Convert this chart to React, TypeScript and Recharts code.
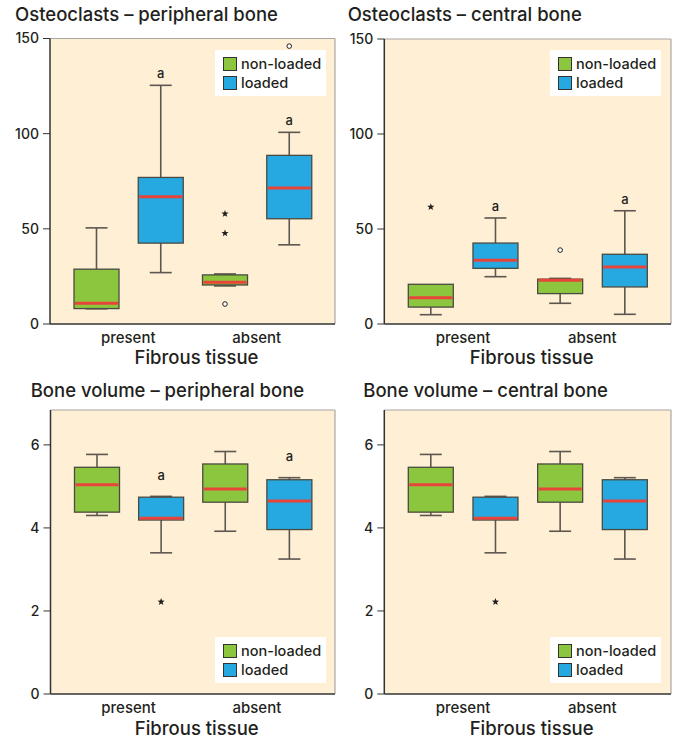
import React from "react";
import { ComposedChart, Bar, XAxis, YAxis, CartesianGrid, Legend } from "recharts";

// ---------- data ----------
const boxKeys = ["present|non-loaded", "present|loaded", "absent|non-loaded", "absent|loaded"];
const groupOf = ["present", "present", "absent", "absent"];
const seriesOf = ["non-loaded", "loaded", "non-loaded", "loaded"];
const seriesNames = ["non-loaded", "loaded"];
const seriesColors = ["#8CC63F", "#25A9E0"];

// Osteoclasts – peripheral bone
const ocPerWhiskerLow = [8, 27, 20, 41.6];
const ocPerQ1 = [8.1, 42.5, 20.5, 55.3];
const ocPerMedian = [10.9, 66.8, 21.9, 71.4];
const ocPerQ3 = [28.8, 77, 25.8, 88.6];
const ocPerWhiskerHigh = [50.5, 125.4, 26.3, 100.7];
const ocPerStars = [[], [], [57.9, 47.7], []];
const ocPerCircles = [[], [], [10.5], [146]];
const ocPerMarks = ["", "a", "", "a"];

// Osteoclasts – central bone
const ocCenWhiskerLow = [4.9, 24.9, 10.9, 5.1];
const ocCenQ1 = [8.9, 29.3, 16, 19.5];
const ocCenMedian = [13.8, 33.5, 23, 30];
const ocCenQ3 = [20.9, 42.6, 23.6, 36.7];
const ocCenWhiskerHigh = [20.9, 55.8, 24, 59.6];
const ocCenStars = [[61.6], [], [], []];
const ocCenCircles = [[], [], [38.9], []];
const ocCenMarks = ["", "a", "", "a"];

// Bone volume – peripheral bone
const bvPerWhiskerLow = [4.3, 3.4, 3.92, 3.25];
const bvPerQ1 = [4.38, 4.19, 4.62, 3.96];
const bvPerMedian = [5.04, 4.23, 4.94, 4.65];
const bvPerQ3 = [5.46, 4.74, 5.54, 5.16];
const bvPerWhiskerHigh = [5.77, 4.76, 5.84, 5.21];
const bvPerStars = [[], [2.22], [], []];
const bvPerCircles = [[], [], [], []];
const bvPerMarks = ["", "a", "", "a"];

// Bone volume – central bone
const bvCenWhiskerLow = [4.3, 3.4, 3.92, 3.25];
const bvCenQ1 = [4.38, 4.19, 4.62, 3.96];
const bvCenMedian = [5.04, 4.23, 4.94, 4.65];
const bvCenQ3 = [5.46, 4.74, 5.54, 5.16];
const bvCenWhiskerHigh = [5.77, 4.76, 5.84, 5.21];
const bvCenStars = [[], [2.22], [], []];
const bvCenCircles = [[], [], [], []];
const bvCenMarks = ["", "", "", ""];

const ocTicks = [0, 50, 100, 150];
const bvTicks = [0, 2, 4, 6];
const xAxisTitle = "Fibrous tissue";

// ---------- styles ----------
const FONT = "Inter, 'Liberation Sans', Arial, sans-serif";
const WEIGHT = 500;
const INK = "#231f20";
const PLOT_BG = "#FEEFD5";
const FRAME = "#a8a6a3";
const BOX_STROKE = "#4a4a40";
const WHISKER = "#5e5750";
const MEDIAN = "#E8443A";

function buildRows(lo: number[], q1: number[], med: number[], q3: number[], hi: number[], stars: number[][], circles: number[][], marks: string[]) {
  return boxKeys.map((k, i) => ({
    key: k,
    group: groupOf[i],
    series: seriesOf[i],
    lo: lo[i],
    q1: q1[i],
    med: med[i],
    q3: q3[i],
    hi: hi[i],
    stars: stars[i],
    circles: circles[i],
    mark: marks[i],
    color: seriesColors[seriesNames.indexOf(seriesOf[i])],
  }));
}

function starPath(cx: number, cy: number, R: number, r: number) {
  let d = "";
  for (let i = 0; i < 10; i++) {
    const a = -Math.PI / 2 + (i * Math.PI) / 5;
    const rad = i % 2 === 0 ? R : r;
    d += (i === 0 ? "M" : "L") + (cx + rad * Math.cos(a)).toFixed(2) + "," + (cy + rad * Math.sin(a)).toFixed(2);
  }
  return d + "Z";
}

function makeBoxShape(markOffset: number) {
  return (props: any) => {
    const { x, y, width, height, payload } = props;
    if (!payload) return null;
    const top = Math.min(y, y + height);
    const h = Math.abs(height);
    const span = payload.q3 - payload.q1;
    const k = span > 0 ? h / span : 0;
    const yOf = (v: number) => top + (payload.q3 - v) * k;
    const cx = x + width / 2;
    const capHalf = 11;
    const yHi = yOf(payload.hi);
    const yLo = yOf(payload.lo);
    return (
      <g>
        {payload.hi > payload.q3 && (
          <g stroke={WHISKER} strokeWidth={1.6}>
            <line x1={cx} x2={cx} y1={yHi} y2={top} />
            <line x1={cx - capHalf} x2={cx + capHalf} y1={yHi} y2={yHi} />
          </g>
        )}
        {payload.lo < payload.q1 && (
          <g stroke={WHISKER} strokeWidth={1.6}>
            <line x1={cx} x2={cx} y1={top + h} y2={yLo} />
            <line x1={cx - capHalf} x2={cx + capHalf} y1={yLo} y2={yLo} />
          </g>
        )}
        <rect x={x} y={top} width={width} height={h} fill={payload.color} stroke={BOX_STROKE} strokeWidth={1.3} />
        <line x1={x + 1} x2={x + width - 1} y1={yOf(payload.med)} y2={yOf(payload.med)} stroke={MEDIAN} strokeWidth={3} />
        {payload.stars.map((v: number, i: number) => (
          <path key={"s" + i} d={starPath(cx, yOf(v), 3.8, 1.6)} fill={INK} />
        ))}
        {payload.circles.map((v: number, i: number) => (
          <circle key={"c" + i} cx={cx} cy={yOf(v)} r={2.3} fill="#fff" stroke={INK} strokeWidth={1} />
        ))}
        {payload.mark && (
          <text x={cx} y={yHi - markOffset} textAnchor="middle" fontSize={13} fontWeight={WEIGHT} fontFamily={FONT} fill={INK}>
            {payload.mark}
          </text>
        )}
      </g>
    );
  };
}

const LegendBox = () => (
  <div
    style={{
      background: "#fff",
      width: 111,
      height: 46,
      boxSizing: "border-box",
      padding: "7px 0 0 8px",
      fontFamily: FONT,
      fontWeight: WEIGHT,
      fontSize: 14.5,
      color: INK,
      whiteSpace: "nowrap",
    }}
  >
    {seriesNames.map((n, i) => (
      <div key={n} style={{ display: "flex", alignItems: "center", height: 14, marginBottom: 5 }}>
        <span
          style={{
            display: "inline-block",
            flex: "0 0 14px",
            width: 14,
            height: 14,
            boxSizing: "border-box",
            background: seriesColors[i],
            border: "1px solid #333",
          }}
        />
        <span style={{ marginLeft: 4, lineHeight: "14px" }}>{n}</span>
      </div>
    ))}
  </div>
);

type PanelProps = {
  title: string;
  rows: any[];
  domain: [number, number];
  ticks: number[];
  left: number;
  top: number;
  width: number;
  yWidth: number;
  marginTop: number;
  marginRight: number;
  legendLeft: number;
  legendTop: number;
  markOffset: number;
  titleX: number;
  titleY: number;
  labelOffset: number;
};

function Panel(p: PanelProps) {
  const shape = makeBoxShape(p.markOffset);
  return (
    <div style={{ position: "absolute", left: p.left, top: p.top, width: p.width, height: 370 }}>
      <svg style={{ position: "absolute", left: 0, top: 0, overflow: "visible" }} width={p.width} height={30}>
        <text x={p.titleX} y={p.titleY} fontFamily={FONT} fontWeight={WEIGHT} fontSize={18.5} fill={INK}>
          {p.title}
        </text>
      </svg>
      <ComposedChart
        width={p.width}
        height={370}
        data={p.rows}
        margin={{ top: p.marginTop, right: p.marginRight, left: 0, bottom: 0 }}
        style={{ position: "absolute", left: 0, top: 0 }}
      >
        <CartesianGrid xAxisId="b" fill={PLOT_BG} stroke="none" horizontal={false} vertical={false} />
        <CartesianGrid
          xAxisId="b"
          fill="none"
          stroke={FRAME}
          strokeWidth={1.2}
          horizontalCoordinatesGenerator={({ offset }: any) => [offset.top]}
          verticalCoordinatesGenerator={({ offset }: any) => [offset.left + offset.width]}
        />
        <XAxis xAxisId="b" dataKey="key" type="category" hide height={0} padding={{ left: 14, right: 14 }} />
        <XAxis
          xAxisId="g"
          dataKey="group"
          type="category"
          allowDuplicatedCategory={false}
          padding={{ left: 14, right: 14 }}
          height={46}
          tickSize={0}
          tickMargin={8}
          tickLine={false}
          axisLine={{ stroke: "#333", strokeWidth: 1.5 }}
          tick={{ fontSize: 15, fill: INK, fontFamily: FONT, fontWeight: WEIGHT }}
          label={{ value: xAxisTitle, position: "insideBottom", offset: p.labelOffset, dx: 4, fontSize: 18.5, fill: INK, fontFamily: FONT, fontWeight: WEIGHT }}
        />
        <YAxis
          domain={p.domain}
          ticks={p.ticks}
          width={p.yWidth}
          tickSize={7}
          tickMargin={4}
          interval={0}
          axisLine={{ stroke: "#333", strokeWidth: 1.5 }}
          tickLine={{ stroke: "#333" }}
          tick={{ fontSize: 14, fill: INK, fontFamily: FONT, fontWeight: WEIGHT }}
        />
        <Legend
          layout="vertical"
          align="center"
          verticalAlign="middle"
          content={() => <LegendBox />}
          wrapperStyle={{ position: "absolute", left: p.legendLeft, top: p.legendTop, width: 111, height: 46 }}
        />
        <Bar
          xAxisId="b"
          dataKey={(d: any) => [d.q1, d.q3]}
          name="box"
          barSize={45}
          shape={shape}
          isAnimationActive={false}
        />
      </ComposedChart>
    </div>
  );
}

export default function App() {
  return (
    <div style={{ position: "absolute", left: 0, top: 0, width: 673, height: 740, background: "#fff" }}>
      <Panel
        title="Osteoclasts – peripheral bone"
        rows={buildRows(ocPerWhiskerLow, ocPerQ1, ocPerMedian, ocPerQ3, ocPerWhiskerHigh, ocPerStars, ocPerCircles, ocPerMarks)}
        domain={[0, 150]}
        ticks={ocTicks}
        left={0}
        top={0}
        width={336}
        yWidth={50}
        marginTop={38.5}
        marginRight={1}
        legendLeft={215}
        legendTop={50}
        markOffset={7}
        titleX={15}
        titleY={21}
        labelOffset={6}
      />
      <Panel
        title="Osteoclasts – central bone"
        rows={buildRows(ocCenWhiskerLow, ocCenQ1, ocCenMedian, ocCenQ3, ocCenWhiskerHigh, ocCenStars, ocCenCircles, ocCenMarks)}
        domain={[0, 150]}
        ticks={ocTicks}
        left={336}
        top={0}
        width={337}
        yWidth={48.3}
        marginTop={39}
        marginRight={2}
        legendLeft={214}
        legendTop={50}
        markOffset={7}
        titleX={11.7}
        titleY={21}
        labelOffset={6}
      />
      <Panel
        title="Bone volume – peripheral bone"
        rows={buildRows(bvPerWhiskerLow, bvPerQ1, bvPerMedian, bvPerQ3, bvPerWhiskerHigh, bvPerStars, bvPerCircles, bvPerMarks)}
        domain={[0, 6.84]}
        ticks={bvTicks}
        left={0}
        top={370}
        width={336}
        yWidth={50.5}
        marginTop={40}
        marginRight={1}
        legendLeft={215}
        legendTop={266.7}
        markOffset={16.5}
        titleX={30.7}
        titleY={26.7}
        labelOffset={5}
      />
      <Panel
        title="Bone volume – central bone"
        rows={buildRows(bvCenWhiskerLow, bvCenQ1, bvCenMedian, bvCenQ3, bvCenWhiskerHigh, bvCenStars, bvCenCircles, bvCenMarks)}
        domain={[0, 6.84]}
        ticks={bvTicks}
        left={336}
        top={370}
        width={337}
        yWidth={48.3}
        marginTop={40}
        marginRight={2}
        legendLeft={214}
        legendTop={266.7}
        markOffset={16.5}
        titleX={27.3}
        titleY={26.7}
        labelOffset={5}
      />
    </div>
  );
}
